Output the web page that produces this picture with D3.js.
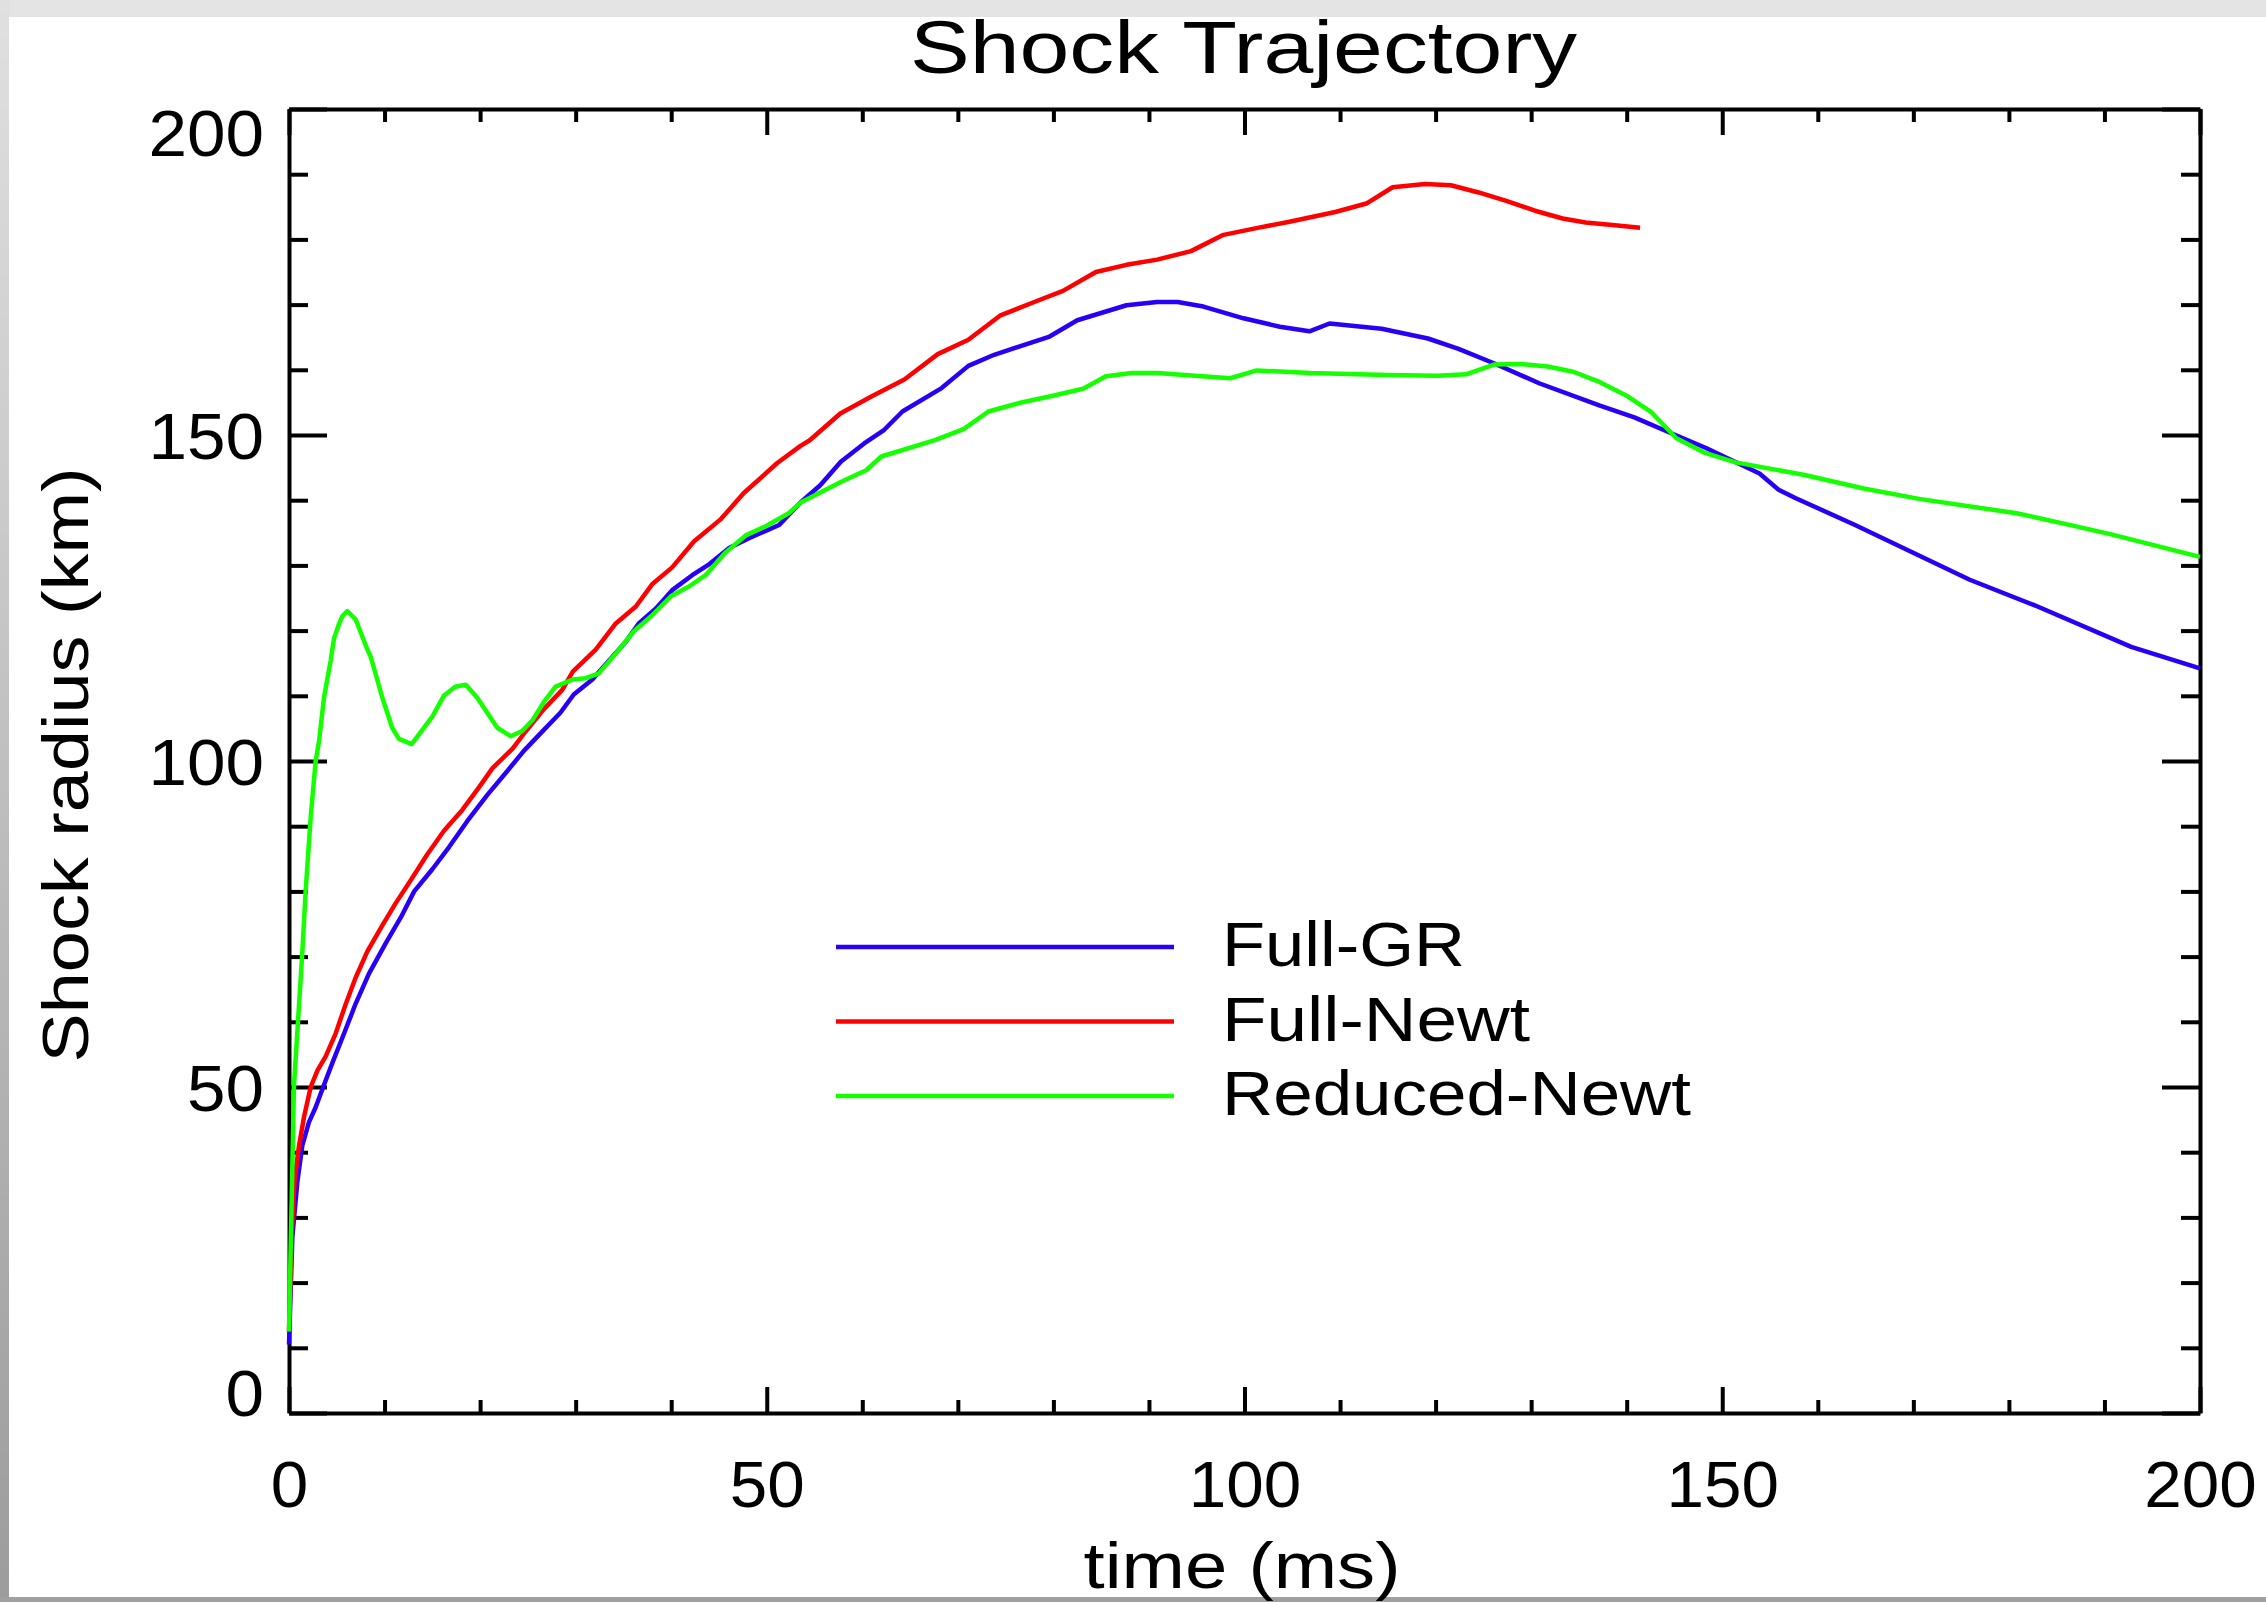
<!DOCTYPE html>
<html>
<head>
<meta charset="utf-8">
<script src="https://cdn.jsdelivr.net/npm/d3@7"></script>
<style>
html, body { margin: 0; padding: 0; background: #fff; }
svg { display: block; }
text { font-family: "Liberation Sans", Arial, Helvetica, sans-serif; fill: #000; }
</style>
</head>
<body>
<svg id="chart" width="2266" height="1602"></svg>
<script>
// ---------------- data ----------------
const chartTitle = "Shock Trajectory";
const xAxisTitle = "time (ms)";
const yAxisTitle = "Shock radius (km)";
const xDomain = [0, 200];
const yDomain = [0, 200];
const xMajorTicks = [0, 50, 100, 150, 200];
const yMajorTicks = [0, 50, 100, 150, 200];
const xMinorTicks = [10, 20, 30, 40, 60, 70, 80, 90, 110, 120, 130, 140, 160, 170, 180, 190];
const yMinorTicks = [10, 20, 30, 40, 60, 70, 80, 90, 110, 120, 130, 140, 160, 170, 180, 190];
const seriesNames = ["Full-GR", "Full-Newt", "Reduced-Newt"];
const seriesColors = ["#2800f5", "#ff0000", "#14ff00"];

// [time (ms), shock radius (km)]
const fullGR = [
  [0,10.5],[0.35,27],[0.87,35.4],[1.4,41.1],[2.09,44.6],[2.79,46.9],[3.66,50.3],[4.54,53.7],
  [5.76,58.2],[6.98,62.8],[8.37,67.4],[10.1,72.0],[11.7,76.0],[13.1,80.0],[15.0,83.4],[16.75,86.8],
  [18.67,90.8],[20.76,94.8],[22.7,98.2],[24.6,101.6],[26.5,104.5],[28.4,107.4],[29.8,110.2],
  [31.75,112.5],[33.5,115.4],[35.2,118.2],[36.6,121.1],[38.4,123.4],[40.1,126.2],[42.2,128.5],
  [44.0,130.2],[46.1,132.7],[48.2,134.2],[51.3,136.2],[53.5,139.6],[55.6,142.3],[57.75,145.9],
  [60.2,148.7],[62.3,150.8],[64.2,153.6],[68.3,157.2],[71.1,160.6],[73.8,162.3],[79.6,165.1],
  [82.5,167.6],[87.65,169.9],[90.85,170.4],[93.0,170.4],[95.7,169.7],[99.9,167.9],[103.7,166.6],
  [106.8,165.9],[108.9,167.1],[114.35,166.3],[119.2,164.8],[122.4,163.2],[126.1,161.0],
  [130.9,157.9],[137.2,154.5],[140.8,152.7],[144.3,150.5],[148.3,148.0],[153.9,144.1],
  [155.9,141.6],[157.7,140.3],[163.9,136.2],[175.9,127.8],[183.0,123.7],[192.8,117.5],[200,114.2]
];
const fullNewt = [
  [0,12.5],[0.3,28],[0.6,36],[1.05,41],[1.57,45.4],[2.27,50],[2.97,52.5],[3.84,54.7],[4.88,58.2],
  [5.93,62.7],[6.98,66.8],[8.2,70.8],[9.77,74.8],[11.17,78.2],[12.74,81.7],[14.48,85.7],[16.22,89.3],
  [18.14,92.5],[19.9,96],[21.3,98.9],[23.4,101.9],[24.8,104.6],[26.7,108],[28.6,110.9],[29.7,113.7],
  [32.1,117.1],[34.2,121.1],[36.3,123.7],[38.0,127.1],[40.1,129.7],[42.4,133.7],[45.2,137.1],
  [47.6,141.1],[51.1,145.7],[53.5,148.3],[54.5,149.2],[57.7,153.3],[60.95,155.9],[64.4,158.5],
  [67.9,162.4],[71.1,164.6],[74.4,168.3],[78.0,170.4],[81.0,172.1],[84.45,175.0],[87.65,176.1],
  [90.85,176.9],[94.4,178.2],[97.8,180.7],[101.5,181.8],[104.7,182.7],[109.5,184.2],[112.75,185.5],
  [115.5,188.0],[118.9,188.5],[121.6,188.3],[124.5,187.2],[127.4,185.9],[130.4,184.4],[133.3,183.2],
  [135.7,182.6],[138.5,182.2],[141.4,181.8]
];
const reducedNewt = [
  [0,12.5],[0.52,50.2],[1.4,70.8],[1.74,80],[2.27,91.4],[2.79,100],[3.14,103],[3.66,109.7],
  [4.36,115.4],[4.71,118.8],[5.23,121],[5.58,122.2],[6.1,123],[6.98,121.7],[8.2,117.1],[8.55,116],
  [9.77,109.7],[10.8,105.1],[11.5,103.4],[12.84,102.6],[15.0,106.8],[16.2,110],[17.4,111.4],
  [18.5,111.7],[19.7,109.7],[21.8,105.1],[23.2,103.8],[24.4,104.6],[25.5,106.3],[26.7,109.1],
  [27.9,111.4],[29.7,112.5],[31.05,112.7],[32.4,113.4],[34.2,116.5],[36.1,119.9],[37.9,122.2],
  [40.0,125.3],[41.9,126.8],[43.6,128.5],[45.7,132],[47.8,134.6],[49.9,136],[52.3,138],[53.5,139.6],
  [57.75,142.8],[60.4,144.6],[62.0,146.7],[67.6,149.2],[70.6,150.9],[73.2,153.6],[76.4,154.9],
  [79.6,155.9],[83.1,157.1],[85.5,159.0],[88.2,159.5],[90.85,159.5],[98.5,158.7],[101.3,159.9],
  [106.9,159.5],[114.9,159.2],[120.2,159.1],[123.2,159.3],[126.1,160.8],[128.8,160.9],[131.7,160.5],
  [134.4,159.7],[137.2,158.1],[139.9,156.1],[142.5,153.6],[145.2,149.5],[148.1,147.3],[151.4,145.8],
  [158.5,143.9],[164.8,141.8],[170.6,140.2],[180.8,138.0],[186.1,136.3],[190.6,134.8],[200,131.3]
];
const seriesData = [fullGR, fullNewt, reducedNewt];

// ---------------- layout ----------------
const W = 2266, H = 1602;
const plot = { left: 289, right: 2200, top: 109, bottom: 1413 };
const svg = d3.select("#chart");

// background + grey frame
const defs = svg.append("defs");
const grad = defs.append("linearGradient").attr("id", "leftGrad")
  .attr("x1", 0).attr("y1", 0).attr("x2", 0).attr("y2", 1);
grad.append("stop").attr("offset", "0%").attr("stop-color", "#e0e0e0");
grad.append("stop").attr("offset", "100%").attr("stop-color", "#9c9c9c");
svg.append("rect").attr("x", 0).attr("y", 0).attr("width", W).attr("height", H).attr("fill", "#fff");
svg.append("rect").attr("x", 0).attr("y", 0).attr("width", W).attr("height", 17).attr("fill", "#e4e4e4");
svg.append("rect").attr("x", 0).attr("y", 0).attr("width", 9).attr("height", H).attr("fill", "url(#leftGrad)");
svg.append("rect").attr("x", 0).attr("y", 1597).attr("width", W).attr("height", 5).attr("fill", "#a0a0a0");

const x = d3.scaleLinear().domain(xDomain).range([plot.left, plot.right]);
const y = d3.scaleLinear().domain(yDomain).range([plot.bottom, plot.top]);

const AX_W = 4;
function styleAxis(g, keepDomain) {
  g.attr("font-size", null).attr("font-family", null);
  g.selectAll(".tick line").attr("stroke", "#000").attr("stroke-width", AX_W);
  if (keepDomain) g.select(".domain").attr("stroke", "#000").attr("stroke-width", AX_W);
  else g.select(".domain").remove();
}

// minor ticks (all four sides)
styleAxis(svg.append("g").attr("transform", `translate(0,${plot.bottom})`)
  .call(d3.axisBottom(x).tickValues(xMinorTicks).tickSize(-13).tickSizeOuter(0).tickFormat("")), false);
styleAxis(svg.append("g").attr("transform", `translate(0,${plot.top})`)
  .call(d3.axisTop(x).tickValues(xMinorTicks).tickSize(-13).tickSizeOuter(0).tickFormat("")), false);
styleAxis(svg.append("g").attr("transform", `translate(${plot.left},0)`)
  .call(d3.axisLeft(y).tickValues(yMinorTicks).tickSize(-19).tickSizeOuter(0).tickFormat("")), false);
styleAxis(svg.append("g").attr("transform", `translate(${plot.right},0)`)
  .call(d3.axisRight(y).tickValues(yMinorTicks).tickSize(-19).tickSizeOuter(0).tickFormat("")), false);

// major ticks + domains
const gBottom = svg.append("g").attr("transform", `translate(0,${plot.bottom})`)
  .call(d3.axisBottom(x).tickValues(xMajorTicks).tickSize(-26).tickSizeOuter(0).tickFormat(d3.format("d")));
styleAxis(gBottom, true);
gBottom.selectAll("text").attr("y", 94).attr("dy", 0)
  .style("font-size", "65px")
  .attr("textLength", d => String(d).length * 37.5).attr("lengthAdjust", "spacingAndGlyphs");

styleAxis(svg.append("g").attr("transform", `translate(0,${plot.top})`)
  .call(d3.axisTop(x).tickValues(xMajorTicks).tickSize(-26).tickSizeOuter(0).tickFormat("")), true);

const gLeft = svg.append("g").attr("transform", `translate(${plot.left},0)`)
  .call(d3.axisLeft(y).tickValues(yMajorTicks).tickSize(-38).tickSizeOuter(0).tickPadding(25).tickFormat(d3.format("d")));
styleAxis(gLeft, true);
gLeft.selectAll("text").attr("dy", 0)
  .attr("y", d => d === yDomain[1] ? 46 : (d === yDomain[0] ? 2 : 23))
  .style("font-size", "65px")
  .attr("textLength", d => String(d).length * 38.5).attr("lengthAdjust", "spacingAndGlyphs");

styleAxis(svg.append("g").attr("transform", `translate(${plot.right},0)`)
  .call(d3.axisRight(y).tickValues(yMajorTicks).tickSize(-38).tickSizeOuter(0).tickFormat("")), true);

// series lines
const line = d3.line().x(d => x(d[0])).y(d => y(d[1]));
const gLines = svg.append("g");
seriesData.forEach((s, i) => {
  gLines.append("path").datum(s)
    .attr("d", line)
    .attr("fill", "none")
    .attr("stroke", seriesColors[i])
    .attr("stroke-width", 4.5)
    .attr("stroke-linejoin", "round");
});

// legend
const legendLen = [243, 308, 469];
const gLeg = svg.append("g");
seriesNames.forEach((name, i) => {
  const ly = 947 + i * 74.5;
  gLeg.append("line").attr("x1", 836).attr("x2", 1174).attr("y1", ly).attr("y2", ly)
    .attr("stroke", seriesColors[i]).attr("stroke-width", 4.5);
  gLeg.append("text").attr("x", 1222).attr("y", ly + 19)
    .style("font-size", "63px")
    .attr("textLength", legendLen[i]).attr("lengthAdjust", "spacingAndGlyphs")
    .text(name);
});

// titles
svg.append("text").attr("x", 1243.5).attr("y", 73).attr("text-anchor", "middle")
  .style("font-size", "75px").attr("textLength", 667).attr("lengthAdjust", "spacingAndGlyphs")
  .text(chartTitle);
svg.append("text").attr("x", 1242).attr("y", 1588).attr("text-anchor", "middle")
  .style("font-size", "65px").attr("textLength", 317).attr("lengthAdjust", "spacingAndGlyphs")
  .text(xAxisTitle);
svg.append("text").attr("transform", "translate(88,765) rotate(-90)").attr("text-anchor", "middle")
  .style("font-size", "65px").attr("textLength", 595).attr("lengthAdjust", "spacingAndGlyphs")
  .text(yAxisTitle);
</script>
</body>
</html>
